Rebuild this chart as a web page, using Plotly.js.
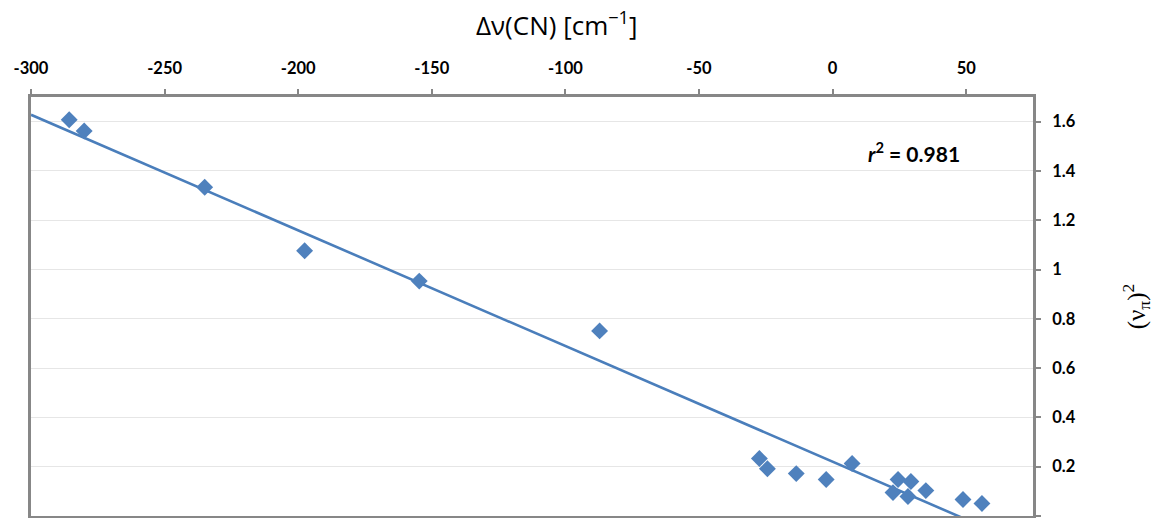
<!DOCTYPE html>
<html>
<head>
<meta charset="utf-8">
<script src="https://cdn.plot.ly/plotly-3.0.1.min.js"></script>
<style>html,body{margin:0;padding:0;background:#fff;}#chart{width:1154px;height:518px;}</style>
</head>
<body>
<div id="chart"></div>
<script>
// Δν(CN) shift values [cm^-1]
const deltaNuCN = [-285.7, -280.1, -235.0, -197.6, -154.7, -87.2, -27.4, -24.4, -13.6, -2.4, 7.3, 24.5, 22.6, 29.3, 28.2, 34.9, 48.8, 55.9];
// (ν_π)^2 values
const nuPiSquared = [1.608, 1.562, 1.334, 1.076, 0.953, 0.751, 0.233, 0.192, 0.172, 0.148, 0.213, 0.148, 0.095, 0.140, 0.079, 0.103, 0.067, 0.051];
const xTickVals = [-300, -250, -200, -150, -100, -50, 0, 50];
const yTickVals = [0, 0.2, 0.4, 0.6, 0.8, 1, 1.2, 1.4, 1.6];
const yTickText = ['0', '0.2', '0.4', '0.6', '0.8', '1', '1.2', '1.4', '1.6'];
const rSquaredLabel = '0.981';
const xRange = [-300, 75];
const yRange = [0, 1.7];

// least-squares linear trendline from the data
const n = deltaNuCN.length;
const mx = deltaNuCN.reduce((a, b) => a + b, 0) / n;
const my = nuPiSquared.reduce((a, b) => a + b, 0) / n;
let sxy = 0, sxx = 0;
for (let i = 0; i < n; i++) { sxy += (deltaNuCN[i] - mx) * (nuPiSquared[i] - my); sxx += (deltaNuCN[i] - mx) ** 2; }
const slope = sxy / sxx;
const intercept = my - slope * mx;
const trendX = [xRange[0], xRange[1]];
const trendY = trendX.map(x => intercept + slope * x);

const frameColor = '#878787';
const tickFont = {family: 'Lato, "Open Sans", sans-serif', size: 16.5, color: '#000', weight: 'bold'};

const data = [
  {x: trendX, y: trendY, type: 'scatter', mode: 'lines', line: {color: '#4a7ebb', width: 2.6}, hoverinfo: 'skip'},
  {x: deltaNuCN, y: nuPiSquared, type: 'scatter', mode: 'markers',
   marker: {symbol: 'diamond', size: 13, color: '#4f81bd', line: {width: 0}}}
];

const layout = {
  width: 1154, height: 518,
  margin: {l: 31, r: 121, t: 97, b: 2},
  paper_bgcolor: '#fff', plot_bgcolor: '#fff',
  showlegend: false,
  hovermode: false,
  xaxis: {
    side: 'top', range: xRange, tickvals: xTickVals, ticktext: xTickVals.map(String),
    showgrid: false, zeroline: false,
    showline: true, linecolor: frameColor, linewidth: 3, mirror: true,
    ticks: 'outside', ticklen: 5, tickwidth: 2, tickcolor: frameColor,
    tickfont: tickFont, ticklabelstandoff: 8, automargin: false
  },
  yaxis: {
    side: 'right', range: yRange, tickvals: yTickVals, ticktext: yTickText,
    showgrid: true, gridcolor: '#e6e6e6', gridwidth: 1, zeroline: false,
    showline: true, linecolor: frameColor, linewidth: 3, mirror: true,
    ticks: 'outside', ticklen: 5, tickwidth: 2, tickcolor: frameColor,
    tickfont: tickFont, ticklabelstandoff: 8, automargin: false,
    title: {text: '(ν<sub>π</sub>)<sup>2</sup>', font: {family: '"Liberation Serif", serif', size: 25, color: '#000'}, standoff: 62}
  },
  annotations: [
    {xref: 'paper', yref: 'paper', x: 0.525, y: 1, yshift: 73, xanchor: 'center', yanchor: 'middle',
     text: 'Δν(CN) [cm<sup>−1</sup>]', showarrow: false,
     font: {family: '"Open Sans", sans-serif', size: 26, color: '#000'}},
    {xref: 'paper', yref: 'paper', x: 0.929, y: 0.869, xanchor: 'right', yanchor: 'middle',
     text: '<i>r</i><sup>2</sup> = ' + rSquaredLabel, showarrow: false,
     font: {family: 'Lato, "Open Sans", sans-serif', size: 21, color: '#000', weight: 'bold'}}
  ]
};

Plotly.newPlot('chart', data, layout, {displayModeBar: false, staticPlot: true});
</script>
</body>
</html>
